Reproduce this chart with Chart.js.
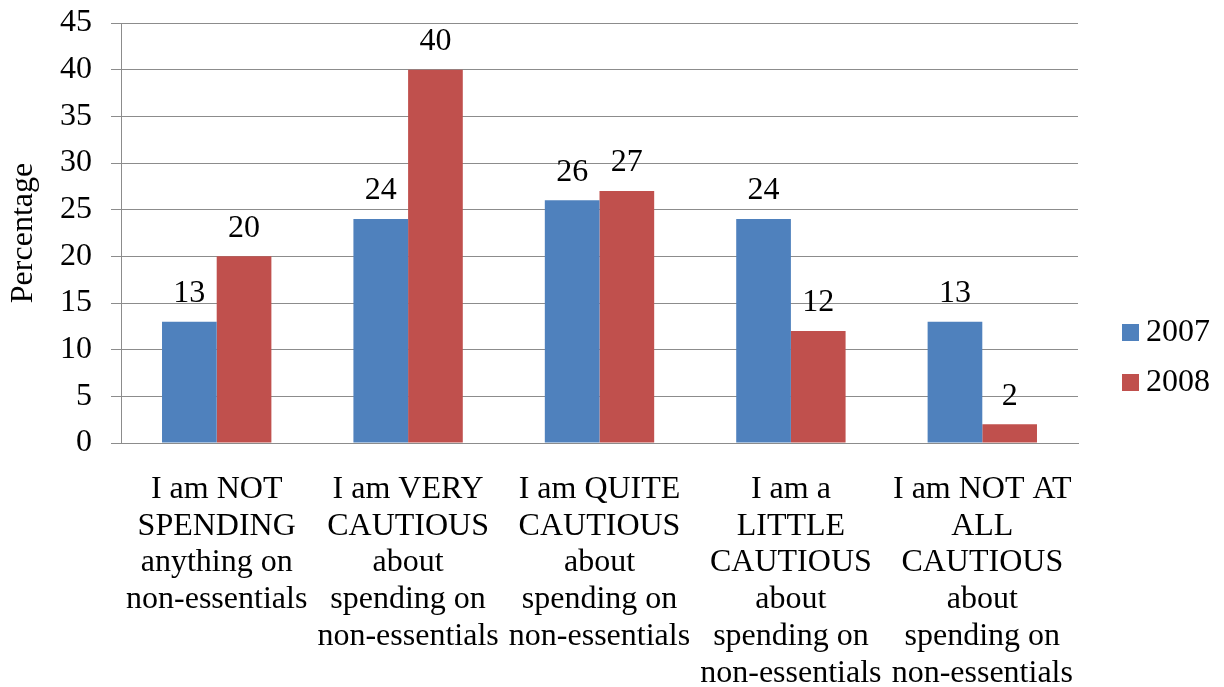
<!DOCTYPE html>
<html>
<head>
<meta charset="utf-8">
<script src="https://cdn.jsdelivr.net/npm/chart.js@4.4.1/dist/chart.umd.min.js"></script>
<style>
    body { margin: 0; background: #fff; }
    #wrap { width: 1224px; height: 687px; position: relative; }
</style>
</head>
<body>
<div id="wrap"><canvas id="myBarChart"></canvas></div>
<script>
// Chart data
var categories = [
    ["I am NOT", "SPENDING", "anything on", "non-essentials"],
    ["I am VERY", "CAUTIOUS", "about", "spending on", "non-essentials"],
    ["I am QUITE", "CAUTIOUS", "about", "spending on", "non-essentials"],
    ["I am a", "LITTLE", "CAUTIOUS", "about", "spending on", "non-essentials"],
    ["I am NOT AT", "ALL", "CAUTIOUS", "about", "spending on", "non-essentials"],
];
var seriesNames = ["2007", "2008"];
var values2007 = [13, 24, 26, 24, 13];
var values2008 = [20, 40, 27, 12, 2];
var yTicks = [0, 5, 10, 15, 20, 25, 30, 35, 40, 45];

var colors = ["#4F81BD", "#C0504D"];
var fontFamily = "'Liberation Serif', 'Times New Roman', serif";

// Value labels above each bar
var barLabels = {
    id: "barLabels",
    afterDatasetsDraw: function (chart) {
        var ctx = chart.ctx;
        ctx.save();
        ctx.font = "32px " + fontFamily;
        ctx.fillStyle = "#000";
        ctx.textAlign = "center";
        ctx.textBaseline = "middle";
        chart.data.datasets.forEach(function (ds, i) {
            chart.getDatasetMeta(i).data.forEach(function (bar, j) {
                ctx.fillText(ds.data[j], bar.x, bar.y - 28);
            });
        });
        ctx.restore();
    },
};

// Legend on the right, like the original
var sideLegend = {
    id: "sideLegend",
    afterDraw: function (chart) {
        var ctx = chart.ctx;
        var x = chart.chartArea.right + 44;
        ctx.save();
        ctx.font = "32px " + fontFamily;
        ctx.textBaseline = "middle";
        ctx.textAlign = "left";
        chart.data.datasets.forEach(function (ds, i) {
            var y = 332 + i * 50;
            ctx.fillStyle = ds.backgroundColor;
            ctx.fillRect(x, y - 8, 17, 17);
            ctx.fillStyle = "#000";
            ctx.fillText(ds.label, x + 24, y + 1);
        });
        ctx.restore();
    },
};

var ctx = document.getElementById("myBarChart").getContext("2d");

new Chart(ctx, {
    type: "bar",
    data: {
        labels: categories,
        datasets: [
            {
                label: seriesNames[0],
                data: values2007,
                backgroundColor: colors[0],
                categoryPercentage: 2 / 3.5,
                barPercentage: 1,
            },
            {
                label: seriesNames[1],
                data: values2008,
                backgroundColor: colors[1],
                categoryPercentage: 2 / 3.5,
                barPercentage: 1,
            },
        ],
    },
    options: {
        responsive: true,
        maintainAspectRatio: false,
        animation: false,
        layout: {
            padding: { top: 23, right: 146, bottom: 0, left: 0 },
        },
        plugins: {
            legend: { display: false },
            tooltip: { enabled: false },
        },
        scales: {
            y: {
                min: 0,
                max: 45,
                afterBuildTicks: function (scale) {
                    scale.ticks = yTicks.map(function (v) { return { value: v }; });
                },
                afterFit: function (scale) {
                    scale.width = 121;
                    scale.paddingTop = 0;
                    scale.paddingBottom = 0;
                },
                ticks: {
                    font: { size: 32, family: fontFamily },
                    color: "#000",
                    padding: 19,
                },
                grid: {
                    color: "#8C8C8C",
                    lineWidth: 1,
                    tickLength: 10,
                },
                border: { color: "#8C8C8C", width: 1 },
                title: {
                    display: true,
                    text: "Percentage",
                    font: { size: 32, family: fontFamily },
                    color: "#000",
                    padding: { top: 4, bottom: 0 },
                },
            },
            x: {
                afterFit: function (scale) {
                    scale.height = 244;
                },
                ticks: {
                    font: { size: 32, family: fontFamily, lineHeight: 1.15 },
                    color: "#000",
                    padding: 28,
                    maxRotation: 0,
                    minRotation: 0,
                    autoSkip: false,
                },
                grid: {
                    drawOnChartArea: false,
                    drawTicks: false,
                },
                border: { color: "#8C8C8C", width: 1 },
            },
        },
    },
    plugins: [barLabels, sideLegend],
});
</script>
</body>
</html>
